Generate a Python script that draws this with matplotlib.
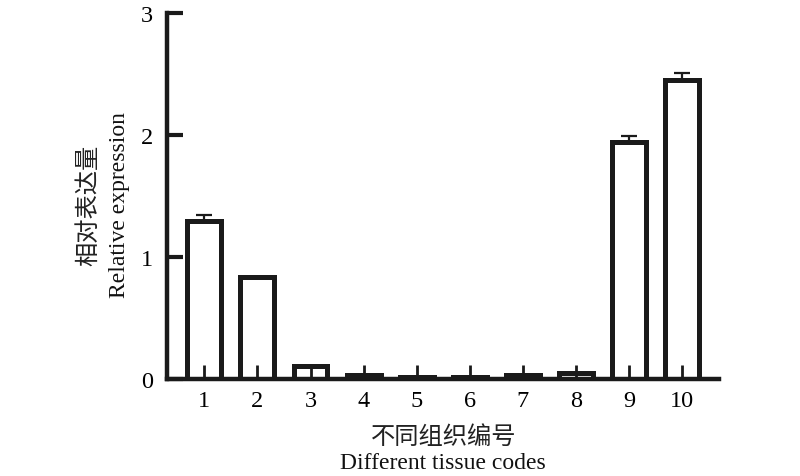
import numpy as np
import matplotlib
matplotlib.use("Agg")
import matplotlib.pyplot as plt

# Data
codes = ['1', '2', '3', '4', '5', '6', '7', '8', '9', '10']
expression = [1.29, 0.83, 0.10, 0.03, 0.01, 0.01, 0.03, 0.05, 1.94, 2.45]
errors = [0.05, 0.0, 0.0, 0.0, 0.0, 0.0, 0.0, 0.0, 0.05, 0.06]

serif = ['Liberation Serif', 'Noto Sans CJK SC']
plt.rcParams['font.family'] = serif
fs = 17.5

fig = plt.figure(figsize=(8, 4.77), dpi=100)
ax = fig.add_axes([0.209, 0.204, 0.69, 0.767])

x = np.arange(1, len(codes) + 1)
ax.bar(x, expression, width=0.64, color='white', edgecolor='#1a1a1a',
       linewidth=3.6, zorder=1)
ax.errorbar(x, expression, yerr=[np.zeros(len(errors)), errors], fmt='none',
            ecolor='#1a1a1a', elinewidth=1.6, capsize=6, capthick=1.6, zorder=2)

ax.set_xlim(0.3, 10.7)
ax.set_ylim(0, 3)
ax.set_yticks([0, 1, 2, 3])
ax.set_xticks(x)
ax.set_xticklabels(codes)

for side in ['top', 'right']:
    ax.spines[side].set_visible(False)
for side in ['left', 'bottom']:
    ax.spines[side].set_linewidth(3.2)
    ax.spines[side].set_color('#1a1a1a')

ax.tick_params(axis='x', direction='in', length=10, width=2, color='#1a1a1a',
               labelsize=fs, pad=8)
ax.tick_params(axis='y', direction='in', length=11.5, width=3, color='#1a1a1a',
               labelsize=fs, pad=10)

# Axis titles (Chinese + English, two lines)
cn = dict(family=['Noto Sans CJK SC'], weight='light', fontsize=17.5, color='#222222')
en = dict(family=serif, fontsize=17, color='#111111')
fig.text(0.110, 0.57, '相对表达量', rotation=90, ha='center', va='center', **cn)
fig.text(0.150, 0.57, 'Relative expression', rotation=90, ha='center', va='center', **en)
fig.text(0.554, 0.084, '不同组织编号', ha='center', va='center', **cn)
fig.text(0.554, 0.029, 'Different tissue codes', ha='center', va='center', **en)

fig.savefig('out.png', dpi=100)
